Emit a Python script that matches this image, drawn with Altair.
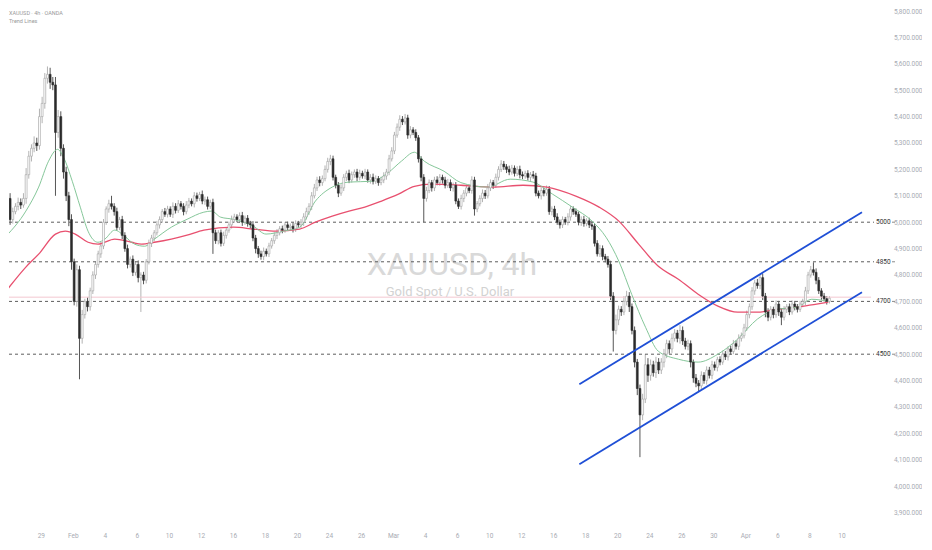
import altair as alt
import pandas as pd

# ---------------- data ----------------
first_open = 5060
jan_close = [5090, 5010, 5040, 5060, 5075, 5065, 5090, 5180, 5250, 5280,
             5300, 5290, 5400, 5450, 5545, 5560, 5530, 5520, 5340, 5400,
             5280, 5190, 5100, 5010, 4850]
feb_close = [4700, 4820, 4560, 4650, 4700, 4680, 4740, 4800, 4840, 4880,
             4910, 5000, 5050, 5070, 5060, 5040, 4980, 5010, 4950, 4900,
             4840, 4860, 4810, 4840, 4790, 4800, 4780, 4850, 4920, 4940,
             4960, 4990, 5010, 5040, 5030, 5050, 5030, 5060, 5045, 5070,
             5060, 5040, 5065, 5080, 5070, 5100, 5090, 5105, 5080, 5085,
             5060, 5075, 4960, 4930, 4960, 4920, 4950, 4970, 4990, 5010,
             5020, 5010, 5025, 5000, 5015, 4995, 4990, 4940, 4900, 4880,
             4870, 4890, 4880, 4910, 4930, 4950, 4960, 4975, 4970, 4990,
             4980, 4985, 4975, 4995, 4990, 5000, 5020, 5040, 5060, 5100,
             5130, 5160, 5150, 5165, 5200, 5230, 5240, 5170, 5140, 5110,
             5130, 5170, 5185, 5160, 5180, 5190, 5170, 5185, 5175, 5190,
             5160, 5170, 5155, 5165, 5150, 5160, 5175, 5190, 5240, 5270]
mar_close = [5330, 5360, 5390, 5380, 5395, 5330, 5350, 5340, 5320, 5240,
             5170, 5090, 5120, 5150, 5130, 5160, 5150, 5170, 5160, 5140,
             5150, 5130, 5140, 5080, 5060, 5090, 5110, 5130, 5120, 5160,
             5050, 5070, 5090, 5110, 5100, 5130, 5150, 5140, 5170, 5200,
             5220, 5210, 5200, 5190, 5205, 5185, 5200, 5180, 5175, 5185,
             5170, 5180, 5175, 5110, 5100, 5120, 5110, 5125, 5040, 5050,
             5020, 5000, 4990, 5010, 5000, 5020, 5050, 5040, 5030, 5000,
             5010, 4995, 5005, 4990, 4985, 4920, 4880, 4900, 4870, 4860,
             4840, 4720, 4590, 4630, 4670, 4660, 4700, 4720, 4680, 4590,
             4470, 4370, 4270, 4330, 4460, 4420, 4460, 4430, 4470, 4440,
             4470, 4500, 4540, 4520, 4560, 4580, 4560, 4590, 4550, 4530,
             4540, 4470, 4410, 4390, 4380, 4420, 4400, 4440, 4420, 4460,
             4450, 4480, 4470, 4500, 4490, 4520, 4510, 4540, 4530, 4560,
             4570, 4600]
apr_close = [4650, 4680, 4740, 4770, 4760, 4790, 4720, 4660, 4640, 4670,
             4650, 4690, 4660, 4640, 4670, 4680, 4660, 4690, 4680, 4670,
             4690, 4700, 4740, 4800, 4820, 4810, 4780, 4740, 4720, 4710,
             4700, 4712]

# wick lengths above / below the candle body
jan_upw = [15, 20, 15, 12, 18, 15, 20, 25, 20, 15, 25, 20, 30, 25, 20, 30, 25, 20, 30, 25,
           20, 15, 20, 15, 20]
jan_dnw = [15, 20, 15, 10, 15, 15, 10, 20, 15, 20, 15, 20, 15, 25, 20, 20, 25, 20, 240, 20,
           30, 25, 20, 25, 30]
feb_upw = [12, 20, 15, 18, 10, 15, 12, 14, 10, 12, 15, 12, 10, 15, 30, 12, 15, 10, 14, 12,
           15, 10, 14, 12, 15, 10, 12, 10, 14, 12, 10, 15, 12, 10, 14, 12, 10, 15, 12, 14,
           10, 12, 15, 12, 10, 14, 12, 10, 15, 12, 12, 10, 14, 12, 10, 12, 14, 10, 12, 15,
           12, 10, 12, 14, 10, 12, 10, 14, 12, 10, 12, 14, 10, 12, 10, 12, 14, 10, 12, 10,
           12, 10, 14, 12, 10, 12, 14, 15, 12, 14, 15, 12, 14, 12, 15, 14, 15, 12, 10, 12,
           14, 12, 10, 14, 12, 10, 12, 14, 10, 12, 10, 12, 14, 12, 10, 12, 14, 12, 15, 14]
feb_dnw = [15, 20, 155, 20, 15, 18, 15, 12, 15, 12, 15, 12, 10, 14, 12, 15, 12, 10, 14, 12,
           15, 12, 14, 12, 18, 130, 15, 12, 10, 14, 12, 10, 14, 12, 10, 12, 10, 14, 12, 10,
           12, 14, 10, 12, 10, 14, 12, 10, 12, 14, 12, 10, 80, 12, 14, 12, 10, 12, 10, 14,
           12, 10, 12, 14, 10, 12, 14, 12, 18, 15, 12, 14, 10, 12, 10, 12, 14, 10, 12, 10,
           12, 10, 14, 12, 10, 12, 14, 10, 12, 14, 10, 12, 14, 12, 10, 12, 14, 12, 12, 15,
           10, 12, 14, 12, 10, 12, 14, 12, 10, 12, 10, 14, 12, 10, 12, 10, 12, 14, 12, 10]
mar_upw = [12, 14, 15, 12, 15, 12, 14, 10, 12, 10, 10, 12, 14, 12, 10, 12, 14, 12, 10, 12,
           14, 12, 10, 12, 10, 14, 12, 10, 12, 14, 12, 10, 12, 14, 12, 15, 12, 10, 14, 12,
           15, 12, 10, 14, 12, 10, 12, 14, 12, 10, 12, 10, 14, 12, 10, 12, 10, 14, 12, 10,
           12, 14, 10, 12, 10, 14, 12, 10, 12, 10, 12, 14, 10, 12, 14, 10, 12, 14, 12, 10,
           12, 14, 15, 20, 14, 12, 20, 20, 15, 12, 15, 12, 15, 20, 40, 25, 20, 15, 20, 15,
           15, 20, 15, 12, 18, 15, 12, 20, 15, 12, 15, 12, 10, 15, 12, 15, 12, 14, 12, 15,
           12, 10, 12, 14, 12, 10, 12, 14, 12, 15, 12, 15]
mar_dnw = [12, 10, 14, 12, 10, 14, 12, 10, 12, 14, 15, 90, 12, 10, 14, 12, 10, 12, 14, 12,
           10, 12, 14, 12, 10, 12, 14, 12, 10, 12, 25, 12, 10, 14, 12, 10, 12, 14, 10, 12,
           10, 12, 14, 12, 10, 12, 10, 14, 12, 10, 12, 14, 10, 12, 10, 14, 12, 10, 12, 14,
           12, 10, 14, 12, 10, 12, 14, 12, 10, 12, 14, 12, 10, 12, 14, 12, 10, 12, 14, 12,
           12, 15, 80, 15, 20, 15, 12, 15, 20, 15, 20, 25, 160, 20, 15, 25, 20, 15, 20, 15,
           15, 20, 15, 18, 15, 12, 15, 20, 15, 12, 15, 20, 18, 15, 20, 15, 12, 15, 12, 15,
           12, 15, 12, 10, 12, 14, 12, 10, 12, 14, 12, 10]
apr_upw = [15, 12, 14, 12, 15, 10, 15, 12, 14, 12, 10, 14, 12, 15, 12, 10, 12, 14, 12, 10,
           12, 10, 15, 12, 14, 28, 15, 12, 10, 12, 10, 8]
apr_dnw = [12, 14, 12, 15, 12, 14, 15, 20, 15, 12, 14, 12, 15, 30, 12, 14, 12, 10, 14, 12,
           10, 12, 14, 12, 10, 12, 15, 12, 14, 10, 12, 8]

# moving averages (bar position, value)
green_t = [0, 7.4, 12.2, 15.9, 19.3, 21.5, 24.8, 27.8, 30.7, 34.4, 37.0, 40.7, 44.4, 48.1,
           51.9, 55.6, 61.9, 67.8, 74.1, 77.0, 80.4, 85.2, 92.6, 97.4, 103.7, 110.0, 115.9,
           122.2, 128.5, 137.0, 143.3, 148.1, 153.0, 156.7, 164.1, 170.4, 180.4, 188.9, 197.4,
           204.8, 212.2, 219.6, 224.8, 229.6, 234.4, 239.6, 244.4, 251.9, 259.3, 266.7, 274.1,
           281.5, 288.9, 296.3, 301.9, 308.1]
green_v = [4947, 5042, 5133, 5231, 5276, 5246, 5155, 5057, 4966, 4924, 4936, 4970, 4947, 4917,
           4909, 4936, 4981, 5011, 5038, 5042, 5019, 5011, 4985, 4955, 4966, 4981, 5080, 5133,
           5152, 5155, 5189, 5231, 5265, 5231, 5193, 5150, 5133, 5163, 5152, 5106, 5057, 5004,
           4943, 4852, 4727, 4602, 4511, 4481, 4470, 4500, 4557, 4633, 4670, 4678, 4708, 4700]
red_t = [0, 7.4, 12.2, 18.5, 22.2, 25.9, 30.7, 34.4, 40.7, 47.0, 50.7, 55.6, 61.9, 67.8, 74.1,
         85.2, 92.6, 101.1, 110.0, 115.9, 122.2, 128.5, 134.4, 140.7, 147.0, 153.0, 159.3,
         170.4, 182.6, 193.7, 202.6, 213.7, 222.2, 229.6, 237.0, 244.4, 251.9, 259.3, 266.7,
         274.1, 281.5, 288.9, 296.3, 303.7, 308.1]
red_v = [4739, 4830, 4879, 4955, 4966, 4955, 4924, 4917, 4936, 4924, 4917, 4924, 4936, 4951,
         4970, 4981, 4974, 4966, 4974, 5000, 5023, 5042, 5057, 5080, 5106, 5136, 5144, 5140,
         5133, 5140, 5133, 5098, 5057, 5004, 4917, 4833, 4784, 4727, 4682, 4659, 4659, 4670,
         4678, 4690, 4697]

# trend channel (bar position, price)
chan_name = ["upper", "upper", "lower", "lower"]
chan_t = [214.8, 320.7, 214.8, 320.7]
chan_v = [4386, 5038, 4083, 4735]

levels = [5000, 4850, 4700, 4500]
last_price = 4716

day_tick_bars = list(range(1, 326, 12))
day_tick_labels = ["27", "29", "Feb", "4", "6", "10", "12", "16", "18", "20", "24", "26",
                   "Mar", "4", "6", "10", "12", "16", "18", "20", "24", "26", "30",
                   "Apr", "6", "8", "10", "14"]
price_ticks = list(range(3900, 5801, 100))

# ---------------- build tables ----------------
closes = jan_close + feb_close + mar_close + apr_close
upw = jan_upw + feb_upw + mar_upw + apr_upw
dnw = jan_dnw + feb_dnw + mar_dnw + apr_dnw
rows = []
prev = first_open
for k, c in enumerate(closes):
    o = prev
    rows.append(dict(u=k + 0.5, open=o, close=c,
                     high=max(o, c) + upw[k], low=min(o, c) - dnw[k],
                     dir="up" if c >= o else "down"))
    prev = c
df = pd.DataFrame(rows)
green_df = pd.DataFrame({"u": green_t, "v": green_v})
red_df = pd.DataFrame({"u": red_t, "v": red_v})
chan_df = pd.DataFrame({"u": chan_t, "v": chan_v, "line": chan_name})
lvl_df = pd.DataFrame({"level": levels, "label": [str(l) for l in levels]})

# ---------------- chart ----------------
W, H = 862, 514
X_LO, X_HI = 2.96, 322.2
xs = alt.Scale(domain=[X_LO, X_HI], nice=False, zero=False)
ys = alt.Scale(domain=[3853, 5800], nice=False, zero=False)
FONT = "Roboto"
AX_COLOR = "#a8abb3"

label_expr = "[" + ",".join("'%s'" % s for s in day_tick_labels) + "][round((datum.value - 1) / 12)]"
x_axis = alt.Axis(values=[b for b in day_tick_bars if X_LO <= b <= X_HI], labelExpr=label_expr,
                  title=None, grid=False, ticks=False, domain=False, labelFontSize=6.5,
                  labelColor=AX_COLOR, labelPadding=7, labelFont=FONT, labelOverlap=False,
                  labelFlush=False)
y_axis = alt.Axis(orient="right", values=price_ticks, format=",.3f", title=None, grid=False,
                  ticks=False, tickSize=0, domain=False, labelAlign="right", labelPadding=51,
                  labelFontSize=6.5, labelColor=AX_COLOR, labelFont=FONT)


def X(field):
    return alt.X(field, scale=xs, axis=x_axis)


def Y(field):
    return alt.Y(field, scale=ys, axis=y_axis)


dir_dom = ["up", "down"]
wick = alt.Chart(df).mark_rule(strokeWidth=0.8, clip=True).encode(
    x=X("u:Q"), y=Y("low:Q"), y2="high:Q",
    color=alt.Color("dir:N", scale=alt.Scale(domain=dir_dom, range=["#a0a0a0", "#2b2b2b"]), legend=None),
)
body = alt.Chart(df).mark_bar(width=1.9, strokeWidth=0.6, clip=True).encode(
    x=X("u:Q"), y=Y("open:Q"), y2="close:Q",
    fill=alt.Fill("dir:N", scale=alt.Scale(domain=dir_dom, range=["#ffffff", "#2b2b2b"]), legend=None),
    stroke=alt.Stroke("dir:N", scale=alt.Scale(domain=dir_dom, range=["#a0a0a0", "#2b2b2b"]), legend=None),
)
green = alt.Chart(green_df).mark_line(color="#86c79a", strokeWidth=1, clip=True, interpolate="monotone").encode(
    x=X("u:Q"), y=Y("v:Q"))
red = alt.Chart(red_df).mark_line(color="#e8506f", strokeWidth=1.3, clip=True, interpolate="monotone").encode(
    x=X("u:Q"), y=Y("v:Q"))
chan = alt.Chart(chan_df).mark_line(color="#1f4fd6", strokeWidth=1.8).encode(
    x=X("u:Q"), y=Y("v:Q"), detail="line:N")

lvl_rule = alt.Chart(lvl_df).mark_rule(strokeDash=[3, 3], color="#5d5d5d", strokeWidth=1).encode(
    y=Y("level:Q"), x=alt.value(0), x2=alt.value(W + 3))
lvl_rule2 = alt.Chart(lvl_df).mark_rule(color="#8a8a8a", strokeWidth=1).encode(
    y=Y("level:Q"), x=alt.value(W + 21), x2=alt.value(W + 24))
lvl_text = alt.Chart(lvl_df).mark_text(align="left", baseline="middle", fontSize=6.5, color="#333333", font=FONT).encode(
    y=Y("level:Q"), x=alt.value(W + 5), text="label:N")
price_line = alt.Chart(pd.DataFrame({"p": [last_price]})).mark_rule(color="#f3c7d0", strokeWidth=1).encode(
    y=Y("p:Q"), x=alt.value(0), x2=alt.value(W))

wm1 = alt.Chart(pd.DataFrame({"t": ["XAUUSD, 4h"]})).mark_text(
    fontSize=32, font=FONT, color="#d9d9d9", align="center", baseline="alphabetic").encode(
    text="t:N", x=alt.value(443), y=alt.value(264))
wm2 = alt.Chart(pd.DataFrame({"t": ["Gold Spot / U.S. Dollar"]})).mark_text(
    fontSize=13, font=FONT, color="#d2d2d2", align="center", baseline="alphabetic").encode(
    text="t:N", x=alt.value(441), y=alt.value(285))
hdr1 = alt.Chart(pd.DataFrame({"t": ["XAUUSD · 4h · OANDA"]})).mark_text(
    fontSize=5.5, font=FONT, color="#9a9a9a", align="left", baseline="top").encode(
    text="t:N", x=alt.value(0), y=alt.value(0))
hdr2 = alt.Chart(pd.DataFrame({"t": ["Trend Lines"]})).mark_text(
    fontSize=5.5, font=FONT, color="#9a9a9a", align="left", baseline="top").encode(
    text="t:N", x=alt.value(0), y=alt.value(8))

chart = alt.layer(
    wick, wm1, wm2, lvl_rule, lvl_rule2, price_line, lvl_text, red, green, body, chan, hdr1, hdr2
).properties(width=W, height=H, padding=0, background="white").configure_view(stroke=None)

chart.save("out.html", embed_options={"renderer": "svg", "actions": False})
